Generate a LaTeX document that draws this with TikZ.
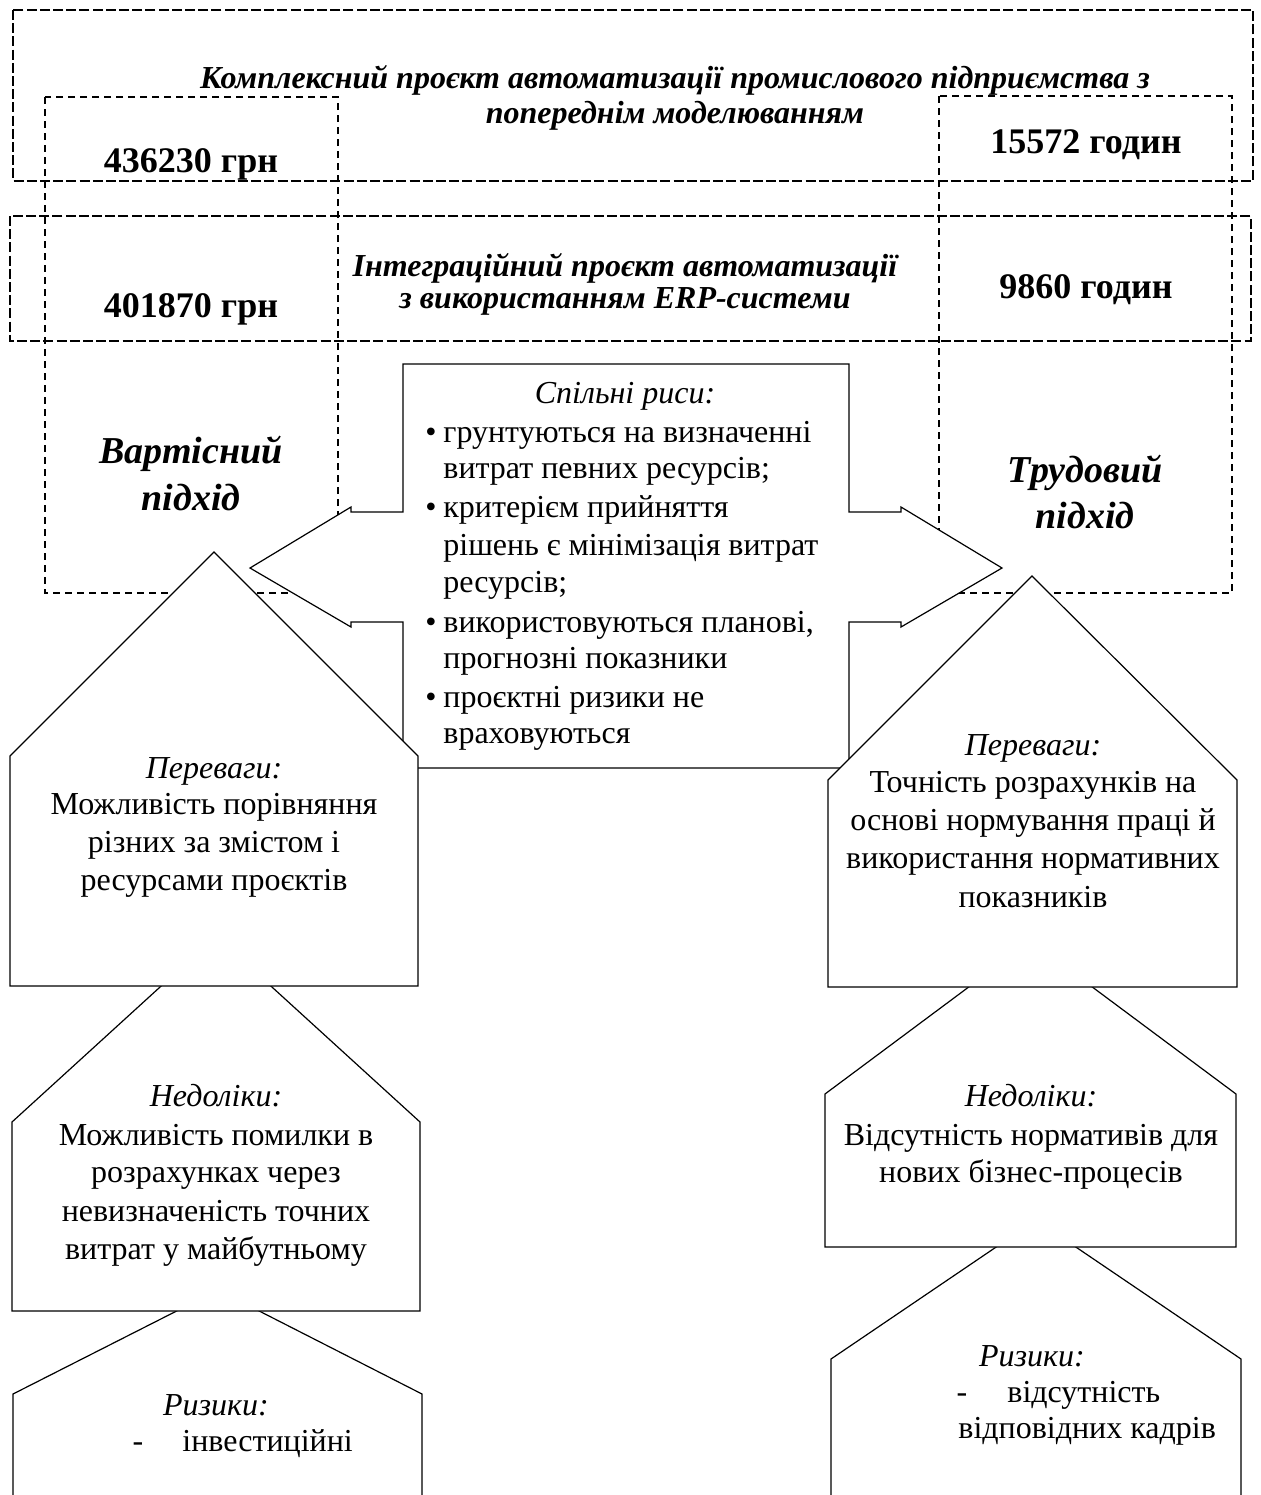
\documentclass[tikz,border=0pt]{standalone}
\usepackage{fontspec}
\setmainfont{Liberation Serif}
\begin{document}
\begin{tikzpicture}[x=0.5pt,y=-0.5pt,
  heavydash/.style={line width=1.45pt,dash pattern=on 5pt off 1.6pt},
  lightdash/.style={line width=0.55pt,dash pattern=on 3.5pt off 2.5pt},
  panel/.style={draw,fill=white,line width=0.6pt,line join=miter},
  body/.style={inner sep=0pt,anchor=base,font=\fontsize{16}{19}\selectfont},
  bodyl/.style={body,anchor=base west},
  bodyi/.style={body,font=\fontsize{16}{19}\selectfont\itshape},
  heading/.style={inner sep=0pt,anchor=base,font=\fontsize{16}{19}\selectfont\bfseries\itshape},
  amount/.style={inner sep=0pt,anchor=base,font=\fontsize{18}{21}\selectfont\bfseries},
  approach/.style={inner sep=0pt,anchor=base,font=\fontsize{19}{23}\selectfont\bfseries\itshape},
]
\useasboundingbox (0,0) rectangle (1261,1495);

% project frames and approach columns
\draw[heavydash] (13,10) rectangle (1253,181);
\draw[heavydash] (10,216) rectangle (1251,341);
\draw[lightdash] (45,97) rectangle (338,593);
\draw[lightdash] (939,96) rectangle (1232,593);

% project titles
\node[heading] (projA1) at (675,88) {Комплексний проєкт автоматизації промислового підприємства з};
\node[heading] (projA2) at (675,123) {попереднім моделюванням};
\node[heading] (projB1) at (625,276) {Інтеграційний проєкт автоматизації};
\node[heading] (projB2) at (625,308) {з використанням ERP-системи};

% cost and labour figures
\node[amount] (costA) at (191,172) {436230 грн};
\node[amount] (costB) at (191,317) {401870 грн};
\node[amount] (hoursA) at (1086,153) {15572 годин};
\node[amount] (hoursB) at (1086,298) {9860 годин};

% approach names
\node[approach] (costL1) at (191,463) {Вартісний};
\node[approach] (costL2) at (191,510) {підхід};
\node[approach] (laborL1) at (1085,482) {Трудовий};
\node[approach] (laborL2) at (1085,528) {підхід};

% common features: box with two-sided arrow
\draw[panel] (403,364) -- (849,364) -- (849,512) -- (901,512) -- (901,507)
  -- (1002,568) -- (901,627) -- (901,622) -- (849,622) -- (849,768)
  -- (403,768) -- (403,622) -- (351,622) -- (351,627) -- (250,568)
  -- (351,507) -- (351,512) -- (403,512) -- cycle;
\node[bodyi] (common) at (625,403) {Спільні риси:};
\node[body] (dot1) at (431,442) {•};
\node[bodyl] (c1a) at (443,442) {грунтуються на визначенні};
\node[bodyl] (c1b) at (443,478) {витрат певних ресурсів;};
\node[body] (dot2) at (431,517) {•};
\node[bodyl] (c2a) at (443,517) {критерієм прийняття};
\node[bodyl] (c2b) at (443,555) {рішень є мінімізація витрат};
\node[bodyl] (c2c) at (443,592) {ресурсів;};
\node[body] (dot3) at (431,632) {•};
\node[bodyl] (c3a) at (443,632) {використовуються планові,};
\node[bodyl] (c3b) at (443,668) {прогнозні показники};
\node[body] (dot4) at (431,707) {•};
\node[bodyl] (c4a) at (443,707) {проєктні ризики не};
\node[bodyl] (c4b) at (443,743) {враховуються};

% cost approach: risks, drawbacks, advantages
\draw[panel] (13,1500) -- (13,1394) -- (218,1290) -- (422,1394) -- (422,1500);
\node[bodyi] (lr0) at (216,1415) {Ризики:};
\node[body] (lrd) at (138,1451) {-};
\node[bodyl] (lr1) at (182,1451) {інвестиційні};

\draw[panel] (12,1311) -- (12,1122) -- (216,936) -- (420,1122) -- (420,1311) -- cycle;
\node[bodyi] (ld0) at (216,1106) {Недоліки:};
\node[body] (ld1) at (216,1145) {Можливість помилки в};
\node[body] (ld2) at (216,1182) {розрахунках через};
\node[body] (ld3) at (216,1221) {невизначеність точних};
\node[body] (ld4) at (216,1259) {витрат у майбутньому};

\draw[panel] (10,986) -- (10,756) -- (214,552) -- (418,756) -- (418,986) -- cycle;
\node[bodyi] (la0) at (214,778) {Переваги:};
\node[body] (la1) at (214,814) {Можливість порівняння};
\node[body] (la2) at (214,852) {різних за змістом і};
\node[body] (la3) at (214,890) {ресурсами проєктів};

% labour approach: risks, drawbacks, advantages
\draw[panel] (831,1500) -- (831,1359) -- (1036,1220) -- (1241,1359) -- (1241,1500);
\node[bodyi] (rr0) at (1032,1366) {Ризики:};
\node[body] (rrd) at (962,1402) {-};
\node[bodyl] (rr1) at (1007,1402) {відсутність};
\node[bodyl] (rr2) at (958,1438) {відповідних кадрів};

\draw[panel] (825,1247) -- (825,1094) -- (1030.5,941) -- (1236,1094) -- (1236,1247) -- cycle;
\node[bodyi] (rd0) at (1031,1106) {Недоліки:};
\node[body] (rd1) at (1031,1145) {Відсутність нормативів для};
\node[body] (rd2) at (1031,1182) {нових бізнес-процесів};

\draw[panel] (828,987) -- (828,780) -- (1032,576) -- (1237,780) -- (1237,987) -- cycle;
\node[bodyi] (ra0) at (1033,755) {Переваги:};
\node[body] (ra1) at (1033,792) {Точність розрахунків на};
\node[body] (ra2) at (1033,830) {основі нормування праці й};
\node[body] (ra3) at (1033,868) {використання нормативних};
\node[body] (ra4) at (1033,907) {показників};
\end{tikzpicture}
\end{document}
